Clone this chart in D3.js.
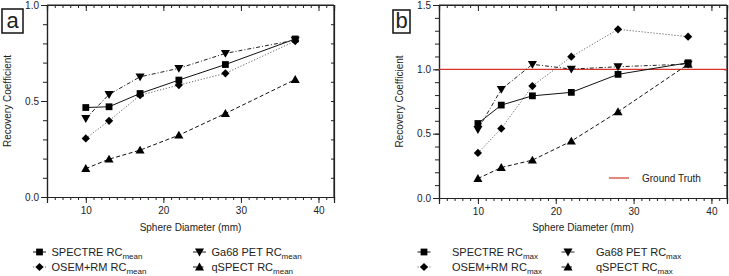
<!DOCTYPE html>
<html><head><meta charset="utf-8">
<script src="https://cdn.jsdelivr.net/npm/d3@7"></script>
<style>
body{margin:0;background:#fff;}
text{font-family:"Liberation Sans",Arial,Helvetica,sans-serif;fill:#222;}
</style></head>
<body>
<svg id="c" width="729" height="276"></svg>
<script>
const diameters = [10, 13, 17, 22, 28, 37];
// Panel a: RC mean
const spectreMean = [0.466, 0.47, 0.539, 0.609, 0.69, 0.823];
const ga68Mean    = [0.409, 0.534, 0.626, 0.67, 0.748, 0.817];
const osemMean    = [0.305, 0.397, 0.53, 0.583, 0.644, 0.812];
const qspectMean  = [0.148, 0.197, 0.244, 0.322, 0.435, 0.612];
// Panel b: RC max
const spectreMax = [0.579, 0.722, 0.794, 0.821, 0.961, 1.051];
const ga68Max    = [0.533, 0.844, 1.039, 1.002, 1.02, 1.041];
const osemMax    = [0.35, 0.54, 0.87, 1.098, 1.311, 1.254];
const qspectMax  = [0.151, 0.237, 0.294, 0.442, 0.67, 1.039];
const groundTruth = 1.0;
const seriesNames = ["SPECTRE RC", "OSEM+RM RC", "Ga68 PET RC", "qSPECT RC"];
const xTicks = [10, 20, 30, 40];
const yTicksA = [0.0, 0.5, 1.0];
const yTicksB = [0.0, 0.5, 1.0, 1.5];

const svg = d3.select("#c");

const styles = {
  spectre: {dash: null, color: "#111", symbol: "square"},
  osem:    {dash: "1.2,1.8", color: "#666", symbol: "diamond"},
  ga68:    {dash: "4,2,1,2", color: "#222", symbol: "down"},
  qspect:  {dash: "4,2.5", color: "#111", symbol: "up"}
};

function marker(g, type, x, y) {
  let p;
  if (type === "square") {
    p = g.append("path").attr("d", d3.symbol().type(d3.symbolSquare).size(46)());
    p.attr("transform", `translate(${x},${y})`);
  } else if (type === "diamond") {
    p = g.append("path").attr("d", d3.symbol().type(d3.symbolSquare).size(34)());
    p.attr("transform", `translate(${x},${y}) rotate(45)`);
  } else if (type === "up") {
    p = g.append("path").attr("d", d3.symbol().type(d3.symbolTriangle).size(36)());
    p.attr("transform", `translate(${x},${y + 0.8})`);
  } else {
    p = g.append("path").attr("d", d3.symbol().type(d3.symbolTriangle).size(36)());
    p.attr("transform", `translate(${x},${y - 0.8}) rotate(180)`);
  }
  p.attr("fill", "#000");
}

function panel(cfg) {
  const {left, right, top, bottom, ymax, yTicks, series, label, sub, legendX, legendGap, textOff} = cfg;
  const x = d3.scaleLinear().domain([5, 42]).range([left, right]);
  const y = d3.scaleLinear().domain([0, ymax]).range([bottom, top]);
  const g = svg.append("g");

  const minorX = d3.range(5, 43, 1);
  const minorY = d3.range(0, Math.round(ymax * 10) + 1).map(d => d / 10);

  // bottom axis
  g.append("g").attr("transform", `translate(0,${bottom})`)
    .call(d3.axisBottom(x).tickValues(minorX).tickSize(3).tickFormat(""));
  g.append("g").attr("transform", `translate(0,${bottom})`)
    .call(d3.axisBottom(x).tickValues(xTicks).tickSize(6).tickPadding(4).tickFormat(d3.format("d")));
  // top axis (inward)
  g.append("g").attr("transform", `translate(0,${top})`)
    .call(d3.axisBottom(x).tickValues(minorX).tickSize(3).tickFormat(""));
  g.append("g").attr("transform", `translate(0,${top})`)
    .call(d3.axisBottom(x).tickValues(xTicks).tickSize(6).tickFormat(""));
  // left axis
  g.append("g").attr("transform", `translate(${left},0)`)
    .call(d3.axisLeft(y).tickValues(minorY).tickSize(4).tickFormat(""));
  g.append("g").attr("transform", `translate(${left},0)`)
    .call(d3.axisLeft(y).tickValues(yTicks).tickSize(6).tickPadding(2).tickFormat(d3.format(".1f")));
  // right axis (inward)
  g.append("g").attr("transform", `translate(${right},0)`)
    .call(d3.axisLeft(y).tickValues(minorY).tickSize(3).tickFormat(""));

  g.selectAll(".domain").attr("stroke", "#222").attr("stroke-width", 1.2);
  g.selectAll(".tick line").attr("stroke", "#222");
  g.selectAll(".tick text").attr("font-size", 10).attr("fill", "#222")
    .attr("font-family", "Liberation Sans, Arial, sans-serif");

  // frame lines
  g.append("line").attr("x1", left).attr("x2", right).attr("y1", top).attr("y2", top)
    .attr("stroke", "#222").attr("stroke-width", 1.2);
  g.append("line").attr("x1", right).attr("x2", right).attr("y1", top).attr("y2", bottom)
    .attr("stroke", "#222").attr("stroke-width", 1.2);

  // y title
  g.append("text").attr("transform", `translate(${left - 36},${(top + bottom) / 2}) rotate(-90)`)
    .attr("text-anchor", "middle").attr("font-size", 10).text("Recovery Coefficient");
  // x title
  g.append("text").attr("x", (left + right) / 2).attr("y", 231)
    .attr("text-anchor", "middle").attr("font-size", 10).text("Sphere Diameter (mm)");

  // panel label
  const lb = cfg.labelBox;
  g.append("rect").attr("x", lb[0]).attr("y", lb[1]).attr("width", lb[2]).attr("height", lb[3])
    .attr("fill", "none").attr("stroke", "#111").attr("stroke-width", 1.5);
  g.append("text").attr("x", lb[0] + lb[2] / 2).attr("y", lb[1] + lb[3] - 5)
    .attr("text-anchor", "middle").attr("font-size", 22).attr("fill", "#111").text(label);

  // ground truth
  if (cfg.truth != null) {
    g.append("line").attr("x1", left).attr("x2", right)
      .attr("y1", y(cfg.truth)).attr("y2", y(cfg.truth))
      .attr("stroke", "#d8352a").attr("stroke-width", 1.2);
    g.append("line").attr("x1", 609).attr("x2", 629).attr("y1", 178).attr("y2", 178)
      .attr("stroke", "#d8352a").attr("stroke-width", 1.2);
    g.append("text").attr("x", 642).attr("y", 181.5).attr("font-size", 10).text("Ground Truth");
  }

  const line = d3.line().x((d, i) => x(diameters[i])).y(d => y(d));
  series.forEach(s => {
    const st = styles[s.key];
    g.append("path").datum(s.values).attr("d", line)
      .attr("fill", "none").attr("stroke", st.color).attr("stroke-width", 1)
      .attr("stroke-dasharray", st.dash);
    s.values.forEach((v, i) => marker(g, st.symbol, x(diameters[i]), y(v)));
  });

  // legend
  const pos = [[0, 252], [0, 267], [1, 252], [1, 267]];
  series.forEach((s, k) => {
    const st = styles[s.key];
    const lx = legendX + pos[k][0] * legendGap;
    const ly = pos[k][1];
    g.append("line").attr("x1", lx - 6.5).attr("x2", lx + 6.5).attr("y1", ly).attr("y2", ly)
      .attr("stroke", st.color).attr("stroke-width", 1).attr("stroke-dasharray", st.dash);
    marker(g, st.symbol, lx, ly);
    const t = g.append("text").attr("x", lx + textOff).attr("y", ly + 4).attr("font-size", 11);
    t.append("tspan").text(s.name);
    t.append("tspan").attr("font-size", 8).attr("dy", 3).text(sub);
  });
}

panel({
  left: 47, right: 334, top: 5, bottom: 197, ymax: 1.0, yTicks: yTicksA,
  label: "a", sub: "mean", labelBox: [2, 9, 21, 24], legendX: 39.5, legendGap: 160, textOff: 12,
  series: [
    {key: "spectre", name: seriesNames[0], values: spectreMean},
    {key: "osem", name: seriesNames[1], values: osemMean},
    {key: "ga68", name: seriesNames[2], values: ga68Mean},
    {key: "qspect", name: seriesNames[3], values: qspectMean}
  ]
});
panel({
  left: 439, right: 727, top: 5, bottom: 198, ymax: 1.5, yTicks: yTicksB,
  label: "b", sub: "max", labelBox: [393, 10, 17, 23], legendX: 424, legendGap: 144, textOff: 28, truth: groundTruth,
  series: [
    {key: "spectre", name: seriesNames[0], values: spectreMax},
    {key: "osem", name: seriesNames[1], values: osemMax},
    {key: "ga68", name: seriesNames[2], values: ga68Max},
    {key: "qspect", name: seriesNames[3], values: qspectMax}
  ]
});
</script>
</body></html>
